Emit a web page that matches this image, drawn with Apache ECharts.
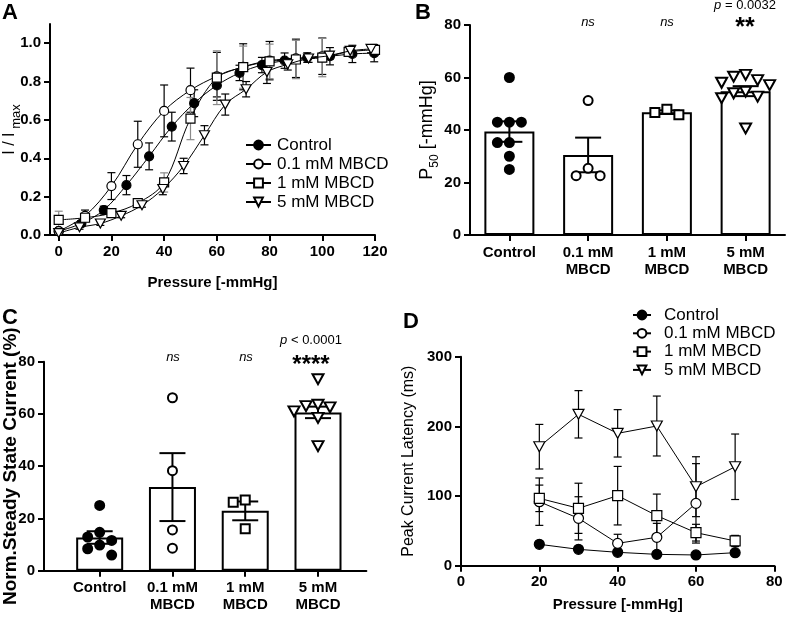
<!DOCTYPE html>
<html>
<head>
<meta charset="utf-8">
<script src="https://cdn.jsdelivr.net/npm/echarts@6/dist/echarts.min.js"></script>
<style>
  html, body { margin: 0; padding: 0; background: #fff; }
  #main { width: 786px; height: 623px; }
</style>
</head>
<body>
<div id="main"></div>
<script>
// ---- data ----
var seriesNames = ['Control', '0.1 mM MBCD', '1 mM MBCD', '5 mM MBCD'];
var catLabels = ['Control', '0.1 mM\nMBCD', '1 mM\nMBCD', '5 mM\nMBCD'];

// A: I/Imax vs pressure
var aCtrlX = [0, 8.6, 17.1, 25.7, 34.3, 42.9, 51.4, 60, 68.6, 77.1, 85.7, 94.3, 102.9, 111.4, 119.7];
var aCtrlY = [0.02, 0.06, 0.13, 0.26, 0.41, 0.565, 0.687, 0.78, 0.845, 0.886, 0.909, 0.925, 0.932, 0.944, 0.948];
var aCtrlE = [0.01, 0.015, 0.02, 0.05, 0.07, 0.075, 0.07, 0.06, 0.04, 0.04, 0.04, 0.025, 0.045, 0.045, 0.045];

var a01X = [0, 10, 20, 30, 40, 50, 60, 70, 80, 90, 100];
var a01Y = [0.02, 0.10, 0.255, 0.473, 0.647, 0.755, 0.827, 0.877, 0.909, 0.921, 0.932];
var a01E = [0.01, 0.03, 0.07, 0.12, 0.135, 0.115, 0.125, 0.12, 0.1, 0.1, 0.095];

var a1X = [0, 10, 20, 30, 40, 50, 60, 70, 80, 90, 100, 110, 120];
var a1Y = [0.079, 0.09, 0.114, 0.166, 0.274, 0.607, 0.82, 0.875, 0.905, 0.915, 0.925, 0.955, 0.965];
var a1E = [0.045, 0.02, 0.01, 0.01, 0.05, 0.11, 0.14, 0.11, 0.09, 0.1, 0.1, 0.02, 0.02];

var a5X = [0, 7.9, 15.8, 23.7, 31.6, 39.5, 47.4, 55.3, 63.2, 71.1, 79, 86.9, 94.8, 102.7, 110.6, 118.5];
var a5Y = [0.01, 0.04, 0.06, 0.10, 0.155, 0.24, 0.36, 0.52, 0.68, 0.76, 0.85, 0.89, 0.92, 0.935, 0.96, 0.97];
var a5E = [0.005, 0.01, 0.01, 0.01, 0.01, 0.03, 0.04, 0.05, 0.055, 0.04, 0.06, 0.03, 0.02, 0.02, 0.02, 0.02];

// B: P50
var bMean = [39.4, 30.5, 46.8, 54.8];
var bSem = [3.9, 6.6, 0.7, 1.9];
var bPts = [
  [60, 43, 43, 43, 35.2, 35.2, 30, 25],
  [51.2, 25.4, 22.6, 22.6],
  [45.8, 47.9, 46.7],
  [61, 60.3, 59, 58, 57.1, 54.6, 54, 52.7, 52.1, 40.6]
];

// C: steady state current
var cMean = [12.7, 32.0, 22.9, 60.6];
var cSem = [2.4, 13.0, 3.6, 2.2];
var cPts = [
  [25, 14.7, 12.9, 11.6, 9.8, 8.4, 6.0],
  [66.2, 38.3, 15.6, 8.6],
  [27.1, 26.2, 16.1],
  [73.3, 63.5, 63, 62.5, 61, 58.5, 47.7]
];

// D: peak current latency
var dX = [20, 30, 40, 50, 60, 70];
var dCtrlY = [30.7, 23.5, 19.2, 16.3, 15.4, 18.7];
var dCtrlE = [3, 3, 2, 2, 3, 3];
var d01X = [20, 30, 40, 50, 60];
var d01Y = [91.9, 68, 32.1, 40.8, 89.5];
var d01E = [34, 31, 13, 20, 57];
var d1Y = [96.7, 82.4, 100.5, 71.8, 47.4, 35.5];
var d1E = [19, 36, 42, 31, 12, 8];
var d5Y = [170.8, 217.3, 190, 200.5, 113.4, 142];
var d5E = [32, 34, 34, 43, 43, 47];

var F = '"Liberation Sans", Arial, sans-serif';
var TRI = 'path://M0,0L20,0L10,18Z';

function zip(xs, ys) { return xs.map(function (x, i) { return [x, ys[i]]; }); }
function zip3(xs, ys, es) { return xs.map(function (x, i) { return [x, ys[i], es[i]]; }); }

// simple beeswarm: spread points that would overlap (in pixels)
function swarm(idx, vals, pxY, pxX) {
  var step = 12, gap = 11;
  var placed = [];
  var order = vals.map(function (v, i) { return i; }).sort(function (a, b) { return vals[b] - vals[a]; });
  order.forEach(function (i) {
    var v = vals[i];
    for (var k = 0; k < 30; k++) {
      var off = k === 0 ? 0 : (k % 2 ? -1 : 1) * Math.ceil(k / 2) * step;
      var ok = placed.every(function (p) { return Math.hypot(p.dx - off, (p.v - v) * pxY) >= gap; });
      if (ok) { placed.push({ dx: off, v: v }); break; }
    }
  });
  return placed.map(function (p) { return [idx + p.dx / pxX, p.v]; });
}

function errItem(capW, color, lw) {
  return function (params, api) {
    var x = api.value(0), y = api.value(1), e = api.value(2);
    var t = api.coord([x, y + e]), b = api.coord([x, y - e]);
    var h = capW / 2, st = { stroke: color, lineWidth: lw };
    return {
      type: 'group',
      children: [
        { type: 'line', shape: { x1: t[0], y1: t[1], x2: b[0], y2: b[1] }, style: st },
        { type: 'line', shape: { x1: t[0] - h, y1: t[1], x2: t[0] + h, y2: t[1] }, style: st },
        { type: 'line', shape: { x1: b[0] - h, y1: b[1], x2: b[0] + h, y2: b[1] }, style: st }
      ]
    };
  };
}

var symStyles = [
  { symbol: 'circle', fill: '#000' },
  { symbol: 'circle', fill: '#fff' },
  { symbol: 'rect', fill: '#fff' },
  { symbol: TRI, fill: '#fff' }
];

function axis(o) {
  var base = {
    axisLine: { show: true, onZero: false, lineStyle: { color: '#000', width: 2 } },
    axisTick: { show: true, length: 6, lineStyle: { color: '#000', width: 2 } },
    axisLabel: { color: '#000', fontSize: 15, fontWeight: 'bold', fontFamily: F, margin: 9 },
    splitLine: { show: false },
    nameLocation: 'middle',
    nameMoveOverlap: false,
    nameTextStyle: { color: '#000', fontSize: 15, fontWeight: 'bold', fontFamily: F }
  };
  for (var k in o) {
    if (base[k] && typeof base[k] === 'object' && typeof o[k] === 'object' && !Array.isArray(o[k])) {
      base[k] = Object.assign({}, base[k], o[k]);
    } else {
      base[k] = o[k];
    }
  }
  return base;
}

var series = [];

// ---- panel A ----
var aSets = [[aCtrlX, aCtrlY, aCtrlE, '#000'], [a01X, a01Y, a01E, '#000'], [a1X, a1Y, a1E, '#8a8a8a'], [a5X, a5Y, a5E, '#000']];
aSets.forEach(function (s, i) {
  series.push({
    type: 'custom', xAxisIndex: 0, yAxisIndex: 0, silent: true, z: 2,
    encode: { x: 0, y: 1 }, data: zip3(s[0], s[1], s[2]), renderItem: errItem(8, s[3], 1.2)
  });
  series.push({
    type: 'line', name: seriesNames[i], xAxisIndex: 0, yAxisIndex: 0, z: 3 + i,
    data: zip(s[0], s[1]), smooth: 0.35,
    symbol: symStyles[i].symbol, symbolSize: i === 3 ? [10, 9] : 9, showAllSymbol: true,
    itemStyle: { color: symStyles[i].fill, borderColor: '#000', borderWidth: 1.2 },
    lineStyle: { color: '#000', width: 1 }
  });
});

// ---- panel D ----
var dSets = [[dX, dCtrlY, dCtrlE], [d01X, d01Y, d01E], [dX, d1Y, d1E], [dX, d5Y, d5E]];
dSets.forEach(function (s, i) {
  series.push({
    type: 'custom', xAxisIndex: 3, yAxisIndex: 3, silent: true, z: 2,
    encode: { x: 0, y: 1 }, data: zip3(s[0], s[1], s[2]), renderItem: errItem(8, '#000', 1.2)
  });
  series.push({
    type: 'line', name: seriesNames[i], xAxisIndex: 3, yAxisIndex: 3, z: 3 + i,
    data: zip(s[0], s[1]),
    symbol: symStyles[i].symbol, symbolSize: i === 3 ? [11, 10] : 10,
    itemStyle: { color: symStyles[i].fill, borderColor: '#000', borderWidth: 1.2 },
    lineStyle: { color: '#000', width: 1 }
  });
});

// ---- panels B and C (bars + SEM + dots) ----
function barPanel(ax, means, sems, pts, barW, capW, pxY, pxX) {
  series.push({
    type: 'bar', xAxisIndex: ax, yAxisIndex: ax, barWidth: barW, z: 2,
    data: means.map(function (m, i) { return [i, m]; }),
    itemStyle: { color: '#fff', borderColor: '#000', borderWidth: 2 }
  });
  series.push({
    type: 'custom', xAxisIndex: ax, yAxisIndex: ax, silent: true, z: 3,
    encode: { x: 0, y: 1 },
    data: means.map(function (m, i) { return [i, m, sems[i]]; }),
    renderItem: errItem(capW, '#000', 2)
  });
  pts.forEach(function (vals, i) {
    series.push({
      type: 'scatter', name: 'pts' + ax + '_' + i, xAxisIndex: ax, yAxisIndex: ax, z: 4,
      data: swarm(i, vals, pxY, pxX),
      symbol: symStyles[i].symbol, symbolSize: i === 3 ? [11, 10] : 9,
      itemStyle: { color: symStyles[i].fill, borderColor: '#000', borderWidth: 2, opacity: 1 }
    });
  });
}
barPanel(1, bMean, bSem, bPts, 50, 26, 210 / 80, 78.75);
barPanel(2, cMean, cSem, cPts, 47, 26, 209 / 80, 72.8);

var catTicks = [0, 1, 2, 3];
function catLabel(v) { return catLabels[Math.round(v)]; }

var legendBase = {
  orient: 'vertical', data: seriesNames, selectedMode: false,
  textStyle: { color: '#000', fontSize: 17, fontFamily: F, lineHeight: 18 },
  itemHeight: 11
};

function note(text, x, y, size, extra) {
  var st = { text: text, fontSize: size, fontFamily: F, fill: '#000', align: 'center', verticalAlign: 'middle' };
  Object.assign(st, extra || {});
  return { type: 'text', x: x, y: y, style: st };
}

var option = {
  animation: false,
  backgroundColor: '#fff',
  grid: [
    { left: 50, top: 24, width: 325, height: 211, containLabel: false, outerBoundsMode: 'none' },
    { left: 470, top: 25, width: 315, height: 210, containLabel: false, outerBoundsMode: 'none' },
    { left: 44, top: 361.7, width: 322.4, height: 209, containLabel: false, outerBoundsMode: 'none' },
    { left: 461, top: 356.7, width: 313.3, height: 209, containLabel: false, outerBoundsMode: 'none' }
  ],
  xAxis: [
    axis({ type: 'value', gridIndex: 0, min: -3.3, max: 120,
      axisTick: { customValues: [0, 20, 40, 60, 80, 100, 120] },
      axisLabel: { customValues: [0, 20, 40, 60, 80, 100, 120] },
      name: 'Pressure [-mmHg]', nameGap: 40 }),
    axis({ type: 'value', gridIndex: 1, min: -0.5, max: 3.5,
      axisTick: { customValues: catTicks },
      axisLabel: { customValues: catTicks, formatter: catLabel, lineHeight: 17 } }),
    axis({ type: 'value', gridIndex: 2, min: -0.765, max: 3.665,
      axisTick: { customValues: catTicks },
      axisLabel: { customValues: catTicks, formatter: catLabel, lineHeight: 17 } }),
    axis({ type: 'value', gridIndex: 3, min: 0, max: 80, interval: 20,
      name: 'Pressure [-mmHg]', nameGap: 32 })
  ],
  yAxis: [
    axis({ type: 'value', gridIndex: 0, min: 0, max: 1.1,
      axisTick: { customValues: [0, 0.2, 0.4, 0.6, 0.8, 1.0] },
      axisLabel: { customValues: [0, 0.2, 0.4, 0.6, 0.8, 1.0], formatter: function (v) { return v.toFixed(1); } },
      name: '{a|I / I}{s| max}', nameGap: 27,
      nameTextStyle: { rich: {
        a: { fontSize: 16, fontFamily: F, fontWeight: 'normal', color: '#000', lineHeight: 26, verticalAlign: 'middle' },
        s: { fontSize: 13, fontFamily: F, fontWeight: 'normal', color: '#000', lineHeight: 13, verticalAlign: 'bottom' }
      } } }),
    axis({ type: 'value', gridIndex: 1, min: 0, max: 80, interval: 20,
      name: '{a|P}{s|50}{a| [-mmHg]}', nameGap: 29,
      nameTextStyle: { rich: {
        a: { fontSize: 18, fontFamily: F, fontWeight: 'normal', color: '#000', lineHeight: 28, verticalAlign: 'middle' },
        s: { fontSize: 12, fontFamily: F, fontWeight: 'normal', color: '#000', lineHeight: 12, verticalAlign: 'bottom' }
      } } }),
    axis({ type: 'value', gridIndex: 2, min: 0, max: 80, interval: 20,
      name: 'Norm.Steady State Current (%)', nameGap: 24,
      nameTextStyle: { fontSize: 19 } }),
    axis({ type: 'value', gridIndex: 3, min: 0, max: 300, interval: 100,
      name: 'Peak Current Latency (ms)', nameGap: 44,
      nameTextStyle: { fontSize: 16, fontWeight: 'normal' } })
  ],
  legend: [
    Object.assign({}, legendBase, { left: 240, top: 131, itemWidth: 25, itemGap: 1,
      textStyle: Object.assign({}, legendBase.textStyle, { padding: [0, 0, 0, 1] }) }),
    Object.assign({}, legendBase, { left: 627, top: 301, itemWidth: 18, itemGap: 0.3,
      textStyle: Object.assign({}, legendBase.textStyle, { padding: [0, 0, 0, 8] }) })
  ],
  graphic: [
    { type: 'text', x: 2, y: 2, style: { text: 'A', fontSize: 22, fontWeight: 'bold', fontFamily: F, fill: '#000' } },
    { type: 'text', x: 415, y: 2, style: { text: 'B', fontSize: 22, fontWeight: 'bold', fontFamily: F, fill: '#000' } },
    { type: 'text', x: 2, y: 307, style: { text: 'C', fontSize: 22, fontWeight: 'bold', fontFamily: F, fill: '#000' } },
    { type: 'text', x: 403, y: 311, style: { text: 'D', fontSize: 22, fontWeight: 'bold', fontFamily: F, fill: '#000' } },

    note('ns', 588, 22, 13, { fontStyle: 'italic' }),
    note('ns', 667, 22, 13, { fontStyle: 'italic' }),
    note('**', 745, 28, 25, { fontWeight: 'bold' }),
    note('{i|p} = 0.0032', 745, 5, 13, { rich: { i: { fontStyle: 'italic', fontSize: 13, fontFamily: F } } }),

    note('ns', 173, 357, 13, { fontStyle: 'italic' }),
    note('ns', 246, 357, 13, { fontStyle: 'italic' }),
    note('****', 311, 365, 24, { fontWeight: 'bold' }),
    note('{i|p} < 0.0001', 311, 340, 13, { rich: { i: { fontStyle: 'italic', fontSize: 13, fontFamily: F } } })
  ],
  series: series
};

var chart = echarts.init(document.getElementById('main'));
chart.setOption(option);
</script>
</body>
</html>
